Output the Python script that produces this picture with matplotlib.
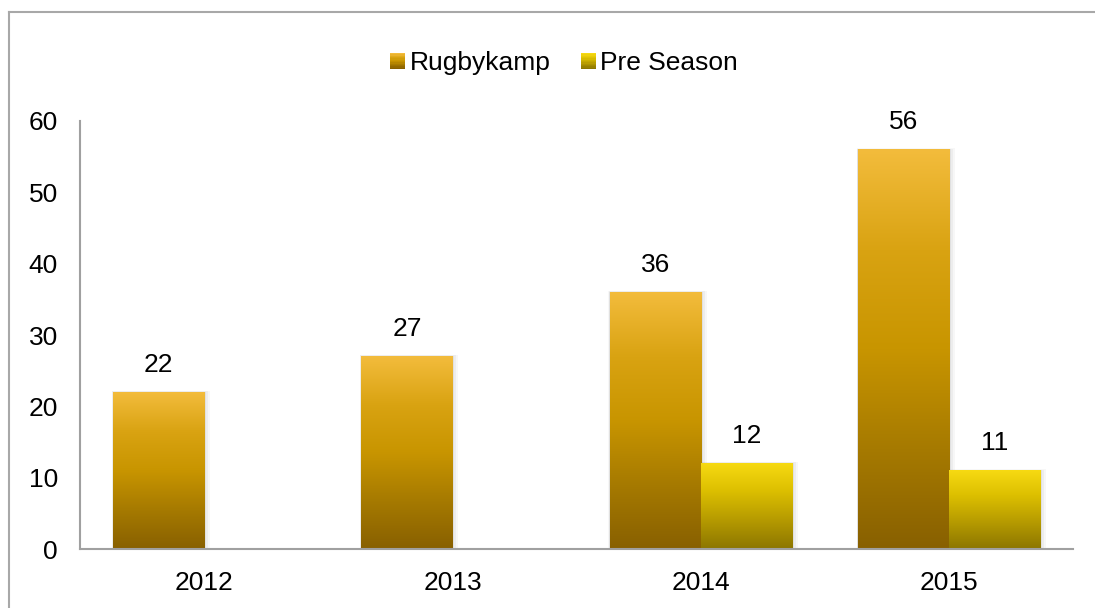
import numpy as np
import matplotlib.pyplot as plt
from matplotlib.colors import LinearSegmentedColormap
from matplotlib.patches import Rectangle
from matplotlib.lines import Line2D
from matplotlib.legend_handler import HandlerBase

plt.rcParams['font.family'] = ['Liberation Sans', 'DejaVu Sans']

years = ["2012", "2013", "2014", "2015"]
rugbykamp = [22, 27, 36, 56]
pre_season = [None, None, 12, 11]

# vertical gradients, listed bottom -> top
rugby_cmap = LinearSegmentedColormap.from_list(
    "rugby", ["#886000", "#A67A00", "#C89500", "#D9A312", "#F3BC3C"])
pre_cmap = LinearSegmentedColormap.from_list(
    "pre", ["#8C7600", "#B59A00", "#DBBE00", "#F7DA12"])

fig = plt.figure(figsize=(10.95, 6.08), dpi=100)
ax = fig.add_axes([0.0731, 0.097, 0.9069, 0.704])

grad = np.linspace(0, 1, 256).reshape(-1, 1)
width = 0.367
fs = 19


def gradient_bar(x0, h, cmap):
    # soft shadow behind the bar
    for i, a in enumerate([0.05, 0.04, 0.03]):
        d = 0.006 * (i + 1)
        ax.add_patch(Rectangle((x0 - d * 0.3, 0), width + d * 1.6, h + d * 12,
                               color="#000000", alpha=a, lw=0, zorder=1))
    ax.imshow(grad, cmap=cmap, origin="lower", aspect="auto",
              extent=(x0, x0 + width, 0, h), zorder=2, interpolation="bicubic")


for i, (r, p) in enumerate(zip(rugbykamp, pre_season)):
    gradient_bar(i - width, r, rugby_cmap)
    ax.annotate(str(r), (i - width / 2, r), xytext=(0, 11), textcoords="offset points",
                ha="center", va="bottom", fontsize=fs)
    if p is not None:
        gradient_bar(i, p, pre_cmap)
        ax.annotate(str(p), (i + width / 2, p), xytext=(0, 11), textcoords="offset points",
                    ha="center", va="bottom", fontsize=fs)

ax.set_xlim(-0.5, 3.5)
ax.set_ylim(0, 60)
ax.set_xticks(range(len(years)))
ax.set_xticklabels(years)
ax.set_yticks(range(0, 61, 10))
ax.tick_params(length=0, labelsize=fs)
ax.tick_params(axis="y", pad=16)
ax.tick_params(axis="x", pad=16)
for s in ["top", "right"]:
    ax.spines[s].set_visible(False)
for s in ["left", "bottom"]:
    ax.spines[s].set_color("#A0A0A0")
    ax.spines[s].set_linewidth(1.5)
    ax.spines[s].set_zorder(3)


class GradientSquare(HandlerBase):
    # legend key drawn as stacked stripes following the bar gradient
    def __init__(self, cmap):
        super().__init__()
        self.cmap = cmap

    def create_artists(self, legend, orig_handle, xdescent, ydescent, width, height,
                       fontsize, trans):
        n = 12
        side = min(width, height)
        x0 = -xdescent + (width - side) / 2
        y0 = -ydescent + (height - side) / 2
        stripes = []
        for k in range(n):
            stripes.append(Rectangle((x0, y0 + side * k / n), side, side / n + 0.3,
                                     color=self.cmap(k / (n - 1)), lw=0, transform=trans))
        return stripes


h_rugby = Rectangle((0, 0), 1, 1)
h_pre = Rectangle((0, 0), 1, 1)
fig.legend([h_rugby, h_pre], ["Rugbykamp", "Pre Season"], loc="center",
           bbox_to_anchor=(0.515, 0.896), ncol=2, frameon=False, fontsize=fs,
           handlelength=0.6, handleheight=0.6, handletextpad=0.15, columnspacing=1.15,
           handler_map={h_rugby: GradientSquare(rugby_cmap), h_pre: GradientSquare(pre_cmap)})

# outer frame: left and top only
fig.add_artist(Line2D([0.0082, 0.0082], [0, 0.980], color="#A8A8A8", lw=1.5,
                      transform=fig.transFigure))
fig.add_artist(Line2D([0.0082, 1.0], [0.980, 0.980], color="#A8A8A8", lw=1.5,
                      transform=fig.transFigure))

fig.savefig("out.png", dpi=100)
